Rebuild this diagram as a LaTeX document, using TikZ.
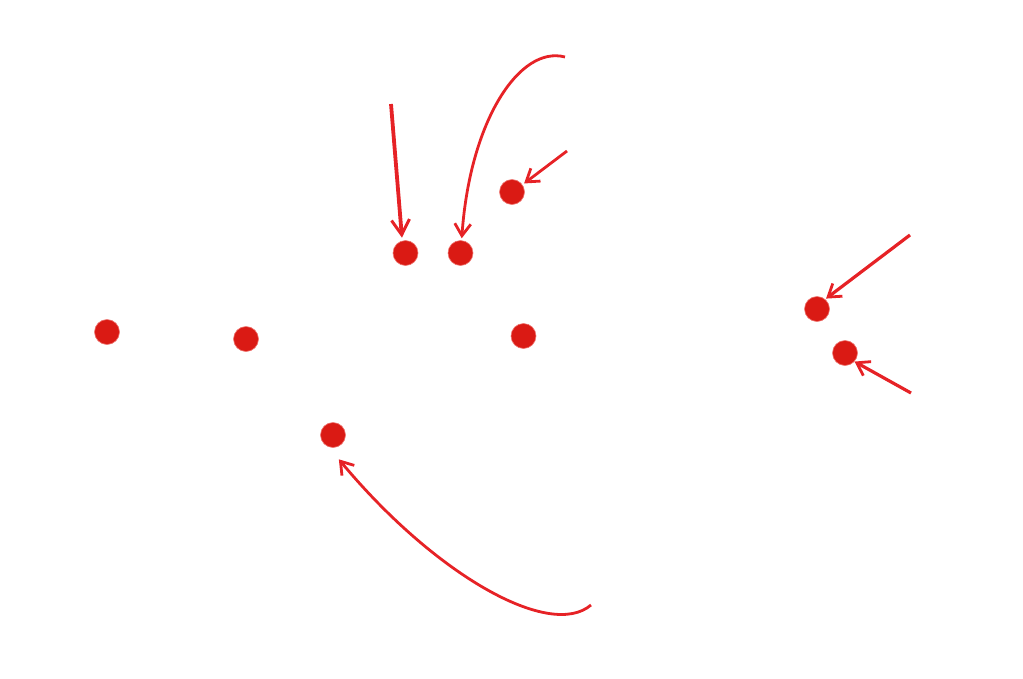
\documentclass[tikz,border=0pt]{standalone}
\usetikzlibrary{arrows.meta}
\definecolor{dotred}{HTML}{DA1A14}
\definecolor{dotrim}{HTML}{EE7570}
\definecolor{arrowred}{HTML}{E62226}
\tikzset{
    dot/.style={circle, fill=dotred, draw=dotrim, line width=0.6pt, minimum size=25pt, inner sep=0pt},
    pointer/.style={draw=arrowred, line width=3.2pt, -{Straight Barb[length=12pt, width=16pt, line width=2.8pt]}},
    thinpointer/.style={pointer, line width=2.8pt}
}
\begin{document}
\begin{tikzpicture}[x=1pt, y=-1pt]
    \useasboundingbox (0,0) rectangle (1023,678);
    \node[dot] (d1) at (107,332) {};
    \node[dot] (d2) at (246,339) {};
    \node[dot] (d3) at (333,435) {};
    \node[dot] (d4) at (405.5,253) {};
    \node[dot] (d5) at (460.5,253) {};
    \node[dot] (d6) at (512,192) {};
    \node[dot] (d7) at (523.5,336) {};
    \node[dot] (d8) at (817,309) {};
    \node[dot] (d9) at (845,353) {};
    \coordinate (s4) at (391,104);
    \coordinate (s5) at (565,57);
    \coordinate (s6) at (567,151);
    \coordinate (s3) at (591,605);
    \coordinate (s8) at (910,235);
    \coordinate (s9) at (911,393);
    \draw[draw=arrowred, line width=3.8pt, -{Straight Barb[length=15pt, width=18pt, line width=3pt]}, shorten >=3pt] (s4) -- (d4.105);
    \draw[thinpointer, shorten >=2pt] (s5) .. controls (520,45) and (470,120) .. (d5.85);
    \draw[thinpointer, shorten >=2pt] (s6) -- (d6.35);
    \draw[thinpointer, shorten >=16pt] (s3) .. controls (550,640) and (435,575) .. (d3.-110);
    \draw[pointer, shorten >=1pt] (s8) -- (d8.50);
    \draw[pointer] (s9) -- (d9.-42);
\end{tikzpicture}
\end{document}
